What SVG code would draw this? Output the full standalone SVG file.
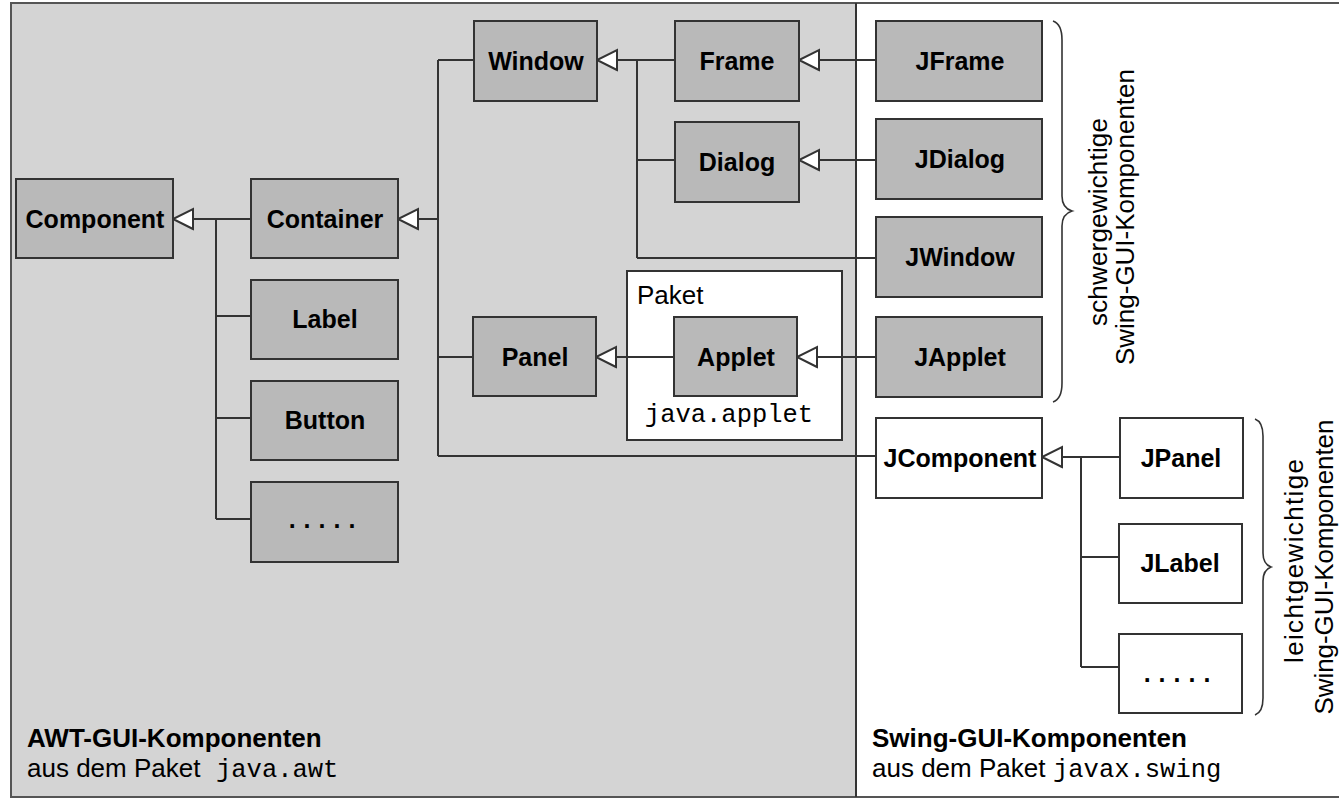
<svg xmlns="http://www.w3.org/2000/svg" width="1339" height="799" viewBox="0 0 1339 799">
  <style>
    .awt { fill: #b9b9b9; stroke: #333; stroke-width: 2; }
    .swl { fill: #ffffff; stroke: #333; stroke-width: 2; }
    .lbl { font-family: "Liberation Sans", Arial, sans-serif; font-weight: bold; font-size: 25px; fill: #000; text-anchor: middle; }
    .reg { font-family: "Liberation Sans", Arial, sans-serif; font-size: 26px; fill: #000; }
    .bold { font-family: "Liberation Sans", Arial, sans-serif; font-weight: bold; font-size: 26px; fill: #000; }
    .mono { font-family: "Liberation Mono", "Courier New", monospace; font-size: 25.5px; fill: #000; }
    .conn path { fill: none; stroke: #333; stroke-width: 2; }
    .brace { fill: none; stroke: #333; stroke-width: 1.6; }
  </style>
  <defs>
    <marker id="tri" markerUnits="userSpaceOnUse" markerWidth="24" markerHeight="24" refX="21" refY="11" orient="auto" viewBox="0 0 24 22">
      <path d="M1,1 L21,11 L1,21 Z" fill="#fff" stroke="#333" stroke-width="2"/>
    </marker>
  </defs>

  <!-- background panels -->
  <rect x="0" y="0" width="1339" height="799" fill="#ffffff"/>
  <rect x="11" y="3" width="845" height="794" fill="#d4d4d4"/>
  <rect x="11" y="3" width="1340" height="794" fill="none" stroke="#555" stroke-width="2"/>
  <line x1="856" y1="3" x2="856" y2="797" stroke="#333" stroke-width="2"/>

  <!-- package box java.applet -->
  <g id="paket-applet">
    <rect x="627" y="271" width="215" height="169" fill="#ffffff" stroke="#333" stroke-width="2"/>
    <text class="reg" x="637" y="304">Paket</text>
    <text class="mono" x="729" y="422" text-anchor="middle">java.applet</text>
  </g>

  <!-- connectors -->
  <g id="connectors" class="conn">
    <path d="M216,219 V519"/>
    <path d="M251,219 H173" marker-end="url(#tri)"/>
    <path d="M216,316 H251"/>
    <path d="M216,418 H251"/>
    <path d="M216,519 H251"/>

    <path d="M438,60 V456"/>
    <path d="M438,219 H398" marker-end="url(#tri)"/>
    <path d="M438,60 H474"/>
    <path d="M438,357 H473"/>
    <path d="M438,456 H876"/>

    <path d="M637,60 V258"/>
    <path d="M675,60 H597" marker-end="url(#tri)"/>
    <path d="M637,160 H675"/>
    <path d="M637,258 H876"/>

    <path d="M876,60 H799" marker-end="url(#tri)"/>
    <path d="M876,160 H799" marker-end="url(#tri)"/>
    <path d="M674,357 H596" marker-end="url(#tri)"/>
    <path d="M876,357 H797" marker-end="url(#tri)"/>

    <path d="M1081,457 V667"/>
    <path d="M1120,457 H1042" marker-end="url(#tri)"/>
    <path d="M1081,557 H1119"/>
    <path d="M1081,667 H1119"/>
  </g>

  <!-- AWT nodes -->
  <g id="component"><rect class="awt" x="16" y="179" width="157" height="79"/><text class="lbl" x="95" y="228">Component</text></g>
  <g id="container"><rect class="awt" x="251" y="179" width="147" height="79"/><text class="lbl" x="325" y="228">Container</text></g>
  <g id="label"><rect class="awt" x="251" y="280" width="147" height="79"/><text class="lbl" x="325" y="328">Label</text></g>
  <g id="button"><rect class="awt" x="251" y="381" width="147" height="79"/><text class="lbl" x="325" y="429">Button</text></g>
  <g id="awt-more"><rect class="awt" x="251" y="482" width="147" height="80"/><text class="lbl" x="326" y="528" letter-spacing="8">.....</text></g>
  <g id="window"><rect class="awt" x="474" y="21" width="123" height="80"/><text class="lbl" x="536" y="70">Window</text></g>
  <g id="frame"><rect class="awt" x="675" y="21" width="124" height="80"/><text class="lbl" x="737" y="70">Frame</text></g>
  <g id="dialog"><rect class="awt" x="675" y="122" width="124" height="80"/><text class="lbl" x="737" y="171">Dialog</text></g>
  <g id="panel"><rect class="awt" x="473" y="317" width="123" height="79"/><text class="lbl" x="535" y="366">Panel</text></g>
  <g id="applet"><rect class="awt" x="674" y="317" width="123" height="79"/><text class="lbl" x="736" y="366">Applet</text></g>

  <!-- Swing heavyweight nodes -->
  <g id="jframe"><rect class="awt" x="876" y="21" width="166" height="80"/><text class="lbl" x="960" y="70">JFrame</text></g>
  <g id="jdialog"><rect class="awt" x="876" y="119" width="166" height="80"/><text class="lbl" x="960" y="168">JDialog</text></g>
  <g id="jwindow"><rect class="awt" x="876" y="217" width="166" height="80"/><text class="lbl" x="960" y="266">JWindow</text></g>
  <g id="japplet"><rect class="awt" x="876" y="317" width="166" height="80"/><text class="lbl" x="960" y="366">JApplet</text></g>

  <!-- Swing lightweight nodes -->
  <g id="jcomponent"><rect class="swl" x="876" y="418" width="166" height="80"/><text class="lbl" x="960" y="467">JComponent</text></g>
  <g id="jpanel"><rect class="swl" x="1120" y="418" width="123" height="80"/><text class="lbl" x="1181" y="467">JPanel</text></g>
  <g id="jlabel"><rect class="swl" x="1119" y="524" width="123" height="79"/><text class="lbl" x="1180" y="572">JLabel</text></g>
  <g id="swing-more"><rect class="swl" x="1119" y="634" width="123" height="79"/><text class="lbl" x="1181" y="682" letter-spacing="8">.....</text></g>

  <!-- braces and rotated labels -->
  <g id="heavy-group">
    <path class="brace" d="M1053,21 Q1062,24 1062,40 L1062,196 Q1062,208 1072,211 Q1062,214 1062,226 L1062,383 Q1062,399 1053,402"/>
    <text class="reg" text-anchor="middle" textLength="208" transform="translate(1107,222) rotate(-90)">schwergewichtige</text>
    <text class="reg" text-anchor="middle" textLength="296" transform="translate(1134,217) rotate(-90)">Swing-GUI-Komponenten</text>
  </g>
  <g id="light-group">
    <path class="brace" d="M1255,419 Q1263,422 1263,436 L1263,553 Q1263,564 1271,567 Q1263,570 1263,581 L1263,698 Q1263,712 1255,715"/>
    <text class="reg" text-anchor="middle" textLength="204" transform="translate(1303,561) rotate(-90)">leichtgewichtige</text>
    <text class="reg" text-anchor="middle" textLength="295" transform="translate(1333,567) rotate(-90)">Swing-GUI-Komponenten</text>
  </g>

  <!-- section captions -->
  <g id="awt-caption">
    <text class="bold" x="27" y="747">AWT-GUI-Komponenten</text>
    <text class="reg" x="27" y="777">aus dem Paket</text>
    <text class="mono" x="216" y="777">java.awt</text>
  </g>
  <g id="swing-caption">
    <text class="bold" x="872" y="747">Swing-GUI-Komponenten</text>
    <text class="reg" x="872" y="777">aus dem Paket</text>
    <text class="mono" x="1053" y="777">javax.swing</text>
  </g>
</svg>
